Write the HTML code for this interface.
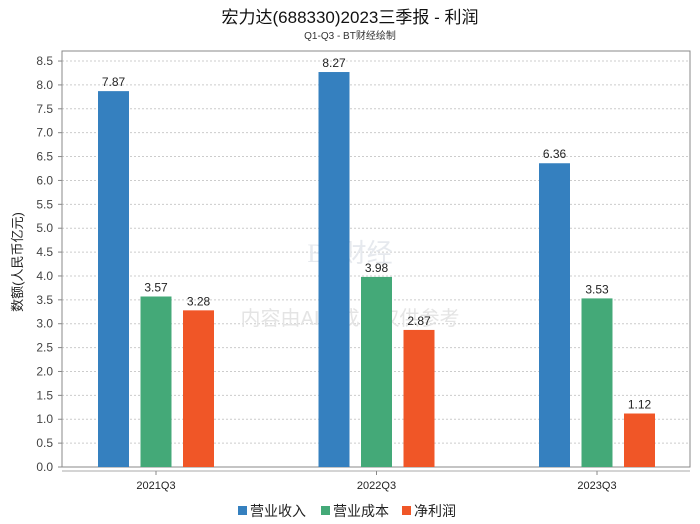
<!DOCTYPE html>
<html><head><meta charset="utf-8"><style>
body{margin:0;background:#fff;}
svg{display:block;font-family:"Liberation Sans","Noto Sans CJK SC",sans-serif;}
</style></head><body>
<svg id="chart" width="700" height="524">
<text x="350" y="23" text-anchor="middle" font-size="17" fill="#111">宏力达(688330)2023三季报 - 利润</text>
<text x="350" y="39" text-anchor="middle" font-size="10" fill="#333">Q1-Q3 - BT财经绘制</text>
<text transform="translate(22,262) rotate(-90)" text-anchor="middle" font-size="13" fill="#222">数额(人民币亿元)</text>
<g id="grid"></g>
<rect x="62" y="51" width="628" height="416" fill="none" stroke="#888"/>
<line x1="62" y1="471" x2="690" y2="471" stroke="#aaa"/>
<text x="350" y="262" text-anchor="middle" font-size="26" fill="#e6e9ee" font-family="Liberation Serif,serif">BT财经</text>
<text x="350" y="325" text-anchor="middle" font-size="20" fill="#e4e4e4">内容由AI生成，仅供参考</text>
<g id="bars"></g>
<g id="legend"></g>
</svg>
<script>
const categories=["2021Q3","2022Q3","2023Q3"];
const seriesNames=["营业收入","营业成本","净利润"];
const revenue=[7.87,8.27,6.36];
const cost=[3.57,3.98,3.53];
const profit=[3.28,2.87,1.12];
const yTicks=[0,0.5,1,1.5,2,2.5,3,3.5,4,4.5,5,5.5,6,6.5,7,7.5,8,8.5];
const colors=["#3580bf","#44a978","#f05627"];
const NS="http://www.w3.org/2000/svg";
const y=v=>467-v*47.76;
const xc=i=>156+i*220.5;
function mk(t,a,p){const e=document.createElementNS(NS,t);for(const k in a)e.setAttribute(k,a[k]);p.appendChild(e);return e;}
const grid=document.getElementById('grid');
yTicks.forEach(v=>{
  const l=mk('line',{x1:62,x2:690,y1:y(v),y2:y(v),stroke:'#ccc','stroke-dasharray':'2,2'},grid);
  
  
  const tk=mk('line',{x1:58,x2:62,y1:y(v),y2:y(v),stroke:'#888'},grid);
  
  
  const t=mk('text',{x:53,y:y(v)+4,'text-anchor':'end','font-size':12,fill:'#444'},grid);
  t.textContent=v.toFixed(1);
  
  
});
const bars=document.getElementById('bars');
const series=[revenue,cost,profit];
categories.forEach((c,i)=>{
  series.forEach((s,j)=>{
    const cx=xc(i)+(j-1)*42.5;
    const r=mk('rect',{x:cx-15.5,y:y(s[i]),width:31,height:467-y(s[i]),fill:colors[j]},bars);
    
    
    const t=mk('text',{x:cx,y:y(s[i])-5,'text-anchor':'middle','font-size':12,fill:'#222'},bars);
    t.textContent=s[i].toFixed(2);
    
    
  });
  const tk=mk('line',{x1:xc(i),x2:xc(i),y1:471,y2:475,stroke:'#888'},bars);
  
  
  const t=mk('text',{x:xc(i),y:489,'text-anchor':'middle','font-size':11,fill:'#222'},bars);
  t.textContent=c;
  
  
});
const lg=document.getElementById('legend');
const lx=[238,321,402];
seriesNames.forEach((n,j)=>{
  const r=mk('rect',{x:lx[j],y:506,width:9,height:9,fill:colors[j]},lg);
  
  
  const t=mk('text',{x:lx[j]+12,y:516,'font-size':14,fill:'#222'},lg);
  t.textContent=n;
  
  
});
</script>
</body></html>
